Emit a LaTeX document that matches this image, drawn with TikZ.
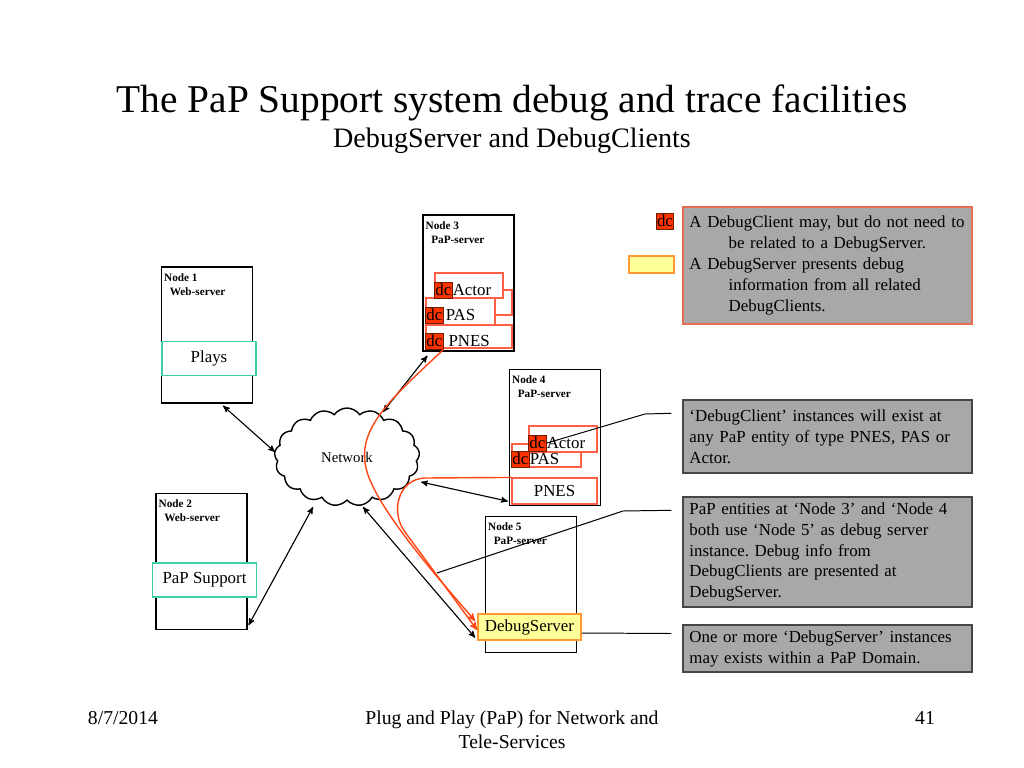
\documentclass[tikz,border=0pt]{standalone}
\usepackage{fontspec}
\setmainfont{Liberation Serif}
\usepackage{tikz}
\usetikzlibrary{arrows,positioning,shapes.symbols}
\frenchspacing
\definecolor{dcred}{RGB}{255,51,0}
\definecolor{dcdark}{RGB}{110,30,0}
\definecolor{entred}{RGB}{255,95,70}
\definecolor{linkred}{RGB}{255,70,20}
\definecolor{dsyellow}{RGB}{255,255,153}
\definecolor{dsorange}{RGB}{255,153,51}
\definecolor{notegray}{RGB}{168,168,168}
\definecolor{noteedge}{RGB}{70,70,70}
\definecolor{noteorange}{RGB}{230,110,80}
\definecolor{appteal}{RGB}{60,205,170}
\tikzstyle{server}=[rectangle,draw=black,line width=1pt,fill=white,inner sep=0pt,minimum width=2.27cm,minimum height=3.4cm]
\tikzstyle{srvlabel}=[anchor=north west,align=left,inner sep=0pt,font=\fontsize{8}{10}\selectfont\bfseries]
\tikzstyle{entity}=[rectangle,draw=entred,line width=0.8pt,fill=white,inner sep=0pt,font=\fontsize{12}{14}\selectfont]
\tikzstyle{dcbox}=[rectangle,draw=dcdark,line width=0.6pt,fill=dcred,inner sep=0pt,minimum width=0.43cm,minimum height=0.4cm,font=\fontsize{12}{12}\selectfont]
\tikzstyle{enttext}=[inner sep=0pt,font=\fontsize{12}{12}\selectfont]
\tikzstyle{app}=[rectangle,draw=appteal,line width=0.8pt,fill=white,inner sep=0pt,font=\fontsize{12}{14}\selectfont]
\tikzstyle{debugsrv}=[rectangle,draw=dsorange,line width=1pt,fill=dsyellow,inner sep=0pt,minimum width=2.58cm,minimum height=0.65cm,font=\fontsize{12}{14}\selectfont]
\tikzstyle{note}=[rectangle,draw=noteedge,line width=1pt,fill=notegray,inner xsep=0.1625cm,inner ysep=0pt,minimum width=7.225cm,text width=6.9cm,align=left,font=\fontsize{12}{14.9}\selectfont]
\tikzstyle{link}=[<->,>=stealth',line width=0.8pt]
\tikzstyle{dbgflow}=[->,>=stealth',draw=linkred,line width=1pt]
\tikzstyle{pointer}=[-,line width=0.7pt]

\begin{document}
\begin{tikzpicture}[x=0.025cm,y=-0.025cm]
    \useasboundingbox (0,0) rectangle (1024,768);

    \node[anchor=base,font=\fontsize{28}{34}\selectfont] (title) at (512,113) {The PaP Support system debug and trace facilities};
    \node[anchor=base,font=\fontsize{20}{24}\selectfont] (subtitle) at (512,148) {DebugServer and DebugClients};

    % web servers
    \node[server] (n1) at (207,335) {};
    \node[srvlabel] (n1l) at ([shift={(3,7)}]n1.north west) {Node 1\\\hspace*{4pt}Web-server};
    \node[app, minimum width=2.35cm, minimum height=0.87cm] (plays) at (209,358.5) {Plays};
    \node[server] (n2) at (201.5,561.5) {};
    \node[srvlabel] (n2l) at ([shift={(3,7)}]n2.north west) {Node 2\\\hspace*{4pt}Web-server};
    \node[app, minimum width=2.58cm, minimum height=0.85cm] (support) at (204.5,580) {PaP Support};

    % node 3
    \node[server] (n3) at (468.5,283) {};
    \node[srvlabel] (n3l) at ([shift={(3,7)}]n3.north west) {Node 3\\\hspace*{4pt}PaP-server};
    \node[entity, minimum width=0.425cm, minimum height=0.625cm] (back3) at (503.5,302.5) {};
    \node[entity, minimum width=1.7cm, minimum height=0.625cm] (actor3) at (469,285.5) {};
    \node[entity, minimum width=1.725cm, minimum height=0.675cm] (pas3) at (460.5,311.5) {};
    \node[entity, minimum width=2.15cm, minimum height=0.575cm] (pnes3) at (469,336.5) {};
    \node[dcbox, anchor=south west] (dc3a) at (actor3.south west) {dc};
    \node[dcbox, anchor=south west] (dc3b) at ([shift={(0,-2)}]pas3.south west) {dc};
    \node[dcbox, anchor=south west] (dc3c) at ([shift={(0,1)}]pnes3.south west) {dc};
    \node[enttext] (actor3t) [right=0pt of dc3a] {Actor};
    \node[enttext] (pas3t) [right=0.05cm of dc3b] {PAS};
    \node[enttext] (pnes3t) [right=0.12cm of dc3c] {PNES};

    % node 4
    \node[server] (n4) at (555,437.5) {};
    \node[srvlabel] (n4l) at ([shift={(3,7)}]n4.north west) {Node 4\\\hspace*{4pt}PaP-server};
    \node[entity, minimum width=1.725cm, minimum height=0.575cm] (pas4) at (546.5,455.5) {};
    \node[entity, minimum width=1.7cm, minimum height=0.65cm] (actor4) at (563,439) {};
    \node[entity, minimum width=2.125cm, minimum height=0.65cm] (pnes4) at (554.5,491) {PNES};
    \node[dcbox, anchor=south west] (dc4b) at (pas4.south west) {dc};
    \node[dcbox, anchor=south west] (dc4a) at ([shift={(0,-1)}]actor4.south west) {dc};
    \node[enttext] (actor4t) [right=0pt of dc4a] {Actor};
    \node[enttext] (pas4t) [right=0pt of dc4b] {PAS};

    % node 5
    \node[server] (n5) at (531,584.5) {};
    \node[srvlabel] (n5l) at ([shift={(3,7)}]n5.north west) {Node 5\\\hspace*{4pt}PaP-server};
    \node[debugsrv] (ds) at (529.5,627) {DebugServer};

    \node[cloud, draw, line width=1pt, fill=white, cloud puffs=17, cloud puff arc=110, cloud ignores aspect,
          minimum width=3.625cm, minimum height=2.45cm, inner sep=0pt, font=\fontsize{10.5}{12}\selectfont] (net) at (347,457) {Network};

    \path[link]
        ([shift={(16,2)}]n1.south) edge ([shift={(-72,-5)}]net.center)
        ([shift={(1,-5)}]n2.south east) edge ([shift={(-34,50)}]net.center)
        ([shift={(5,4)}]n3.south west) edge ([shift={(36,-45)}]net.center)
        ([shift={(-1,-5)}]n4.south west) edge ([shift={(74,25)}]net.center)
        ([shift={(-2,-3)}]ds.south west) edge ([shift={(16,50)}]net.center);

    \draw[dbgflow] (dc3c.south east) .. controls (395,395) and (360,425) .. (365,462)
        .. controls (368,500) and (440,580) .. ([shift={(-2,-6)}]ds.west);
    \draw[dbgflow] (pnes4.north west) -- (425,478) .. controls (398,479) and (390,512) .. (405,532)
        -- ([shift={(0,3)}]ds.west);

    % legend and notes
    \node[dcbox] (legdc) at (665,221) {dc};
    \node[debugsrv, minimum width=1.125cm, minimum height=0.425cm] (legds) at (651.5,264.5) {};
    \node[note, draw=noteorange, minimum height=2.925cm] (cb1) at (827.5,265.5) {A DebugClient may, but do not need to\\
        \hspace*{0.98cm}be related to a DebugServer.\\
        A DebugServer presents debug\\
        \hspace*{0.98cm}information from all related\\
        \hspace*{0.98cm}DebugClients.};
    \node[note, minimum height=1.825cm] (cb2) at (827.5,436.5) {‘DebugClient’ instances will exist at\\
        any PaP entity of type PNES, PAS or\\
        Actor.};
    \node[note, minimum height=2.75cm] (cb3) at (827.5,552) {PaP entities at ‘Node 3’ and ‘Node 4\\
        both use ‘Node 5’ as debug server\\
        instance. Debug info from\\
        DebugClients are presented at\\
        DebugServer.};
    \node[note, minimum height=1.175cm] (cb4) at (827.5,648.5) {One or more ‘DebugServer’ instances\\
        may exists within a PaP Domain.};

    \coordinate (srvhint) at (437,573);
    \draw[pointer] (dc4a.east) -- (645,414) -- ([shift={(-11,14)}]cb2.north west);
    \draw[pointer] (srvhint) -- (623,511) -- ([shift={(-11,14)}]cb3.north west);
    \draw[pointer] ([shift={(0,6)}]ds.east) -- ([shift={(-11,-15)}]cb4.west);

    % footer
    \node[anchor=base west,font=\fontsize{14}{17}\selectfont] (date) at (83,724) {8/7/2014};
    \node[anchor=base,font=\fontsize{14}{17}\selectfont] (foot1) at (512,724) {Plug and Play (PaP) for Network and};
    \node[anchor=base,font=\fontsize{14}{17}\selectfont] (foot2) at (512,748) {Tele-Services};
    \node[anchor=base,font=\fontsize{14}{17}\selectfont] (page) at (925,724) {41};
\end{tikzpicture}
\end{document}
